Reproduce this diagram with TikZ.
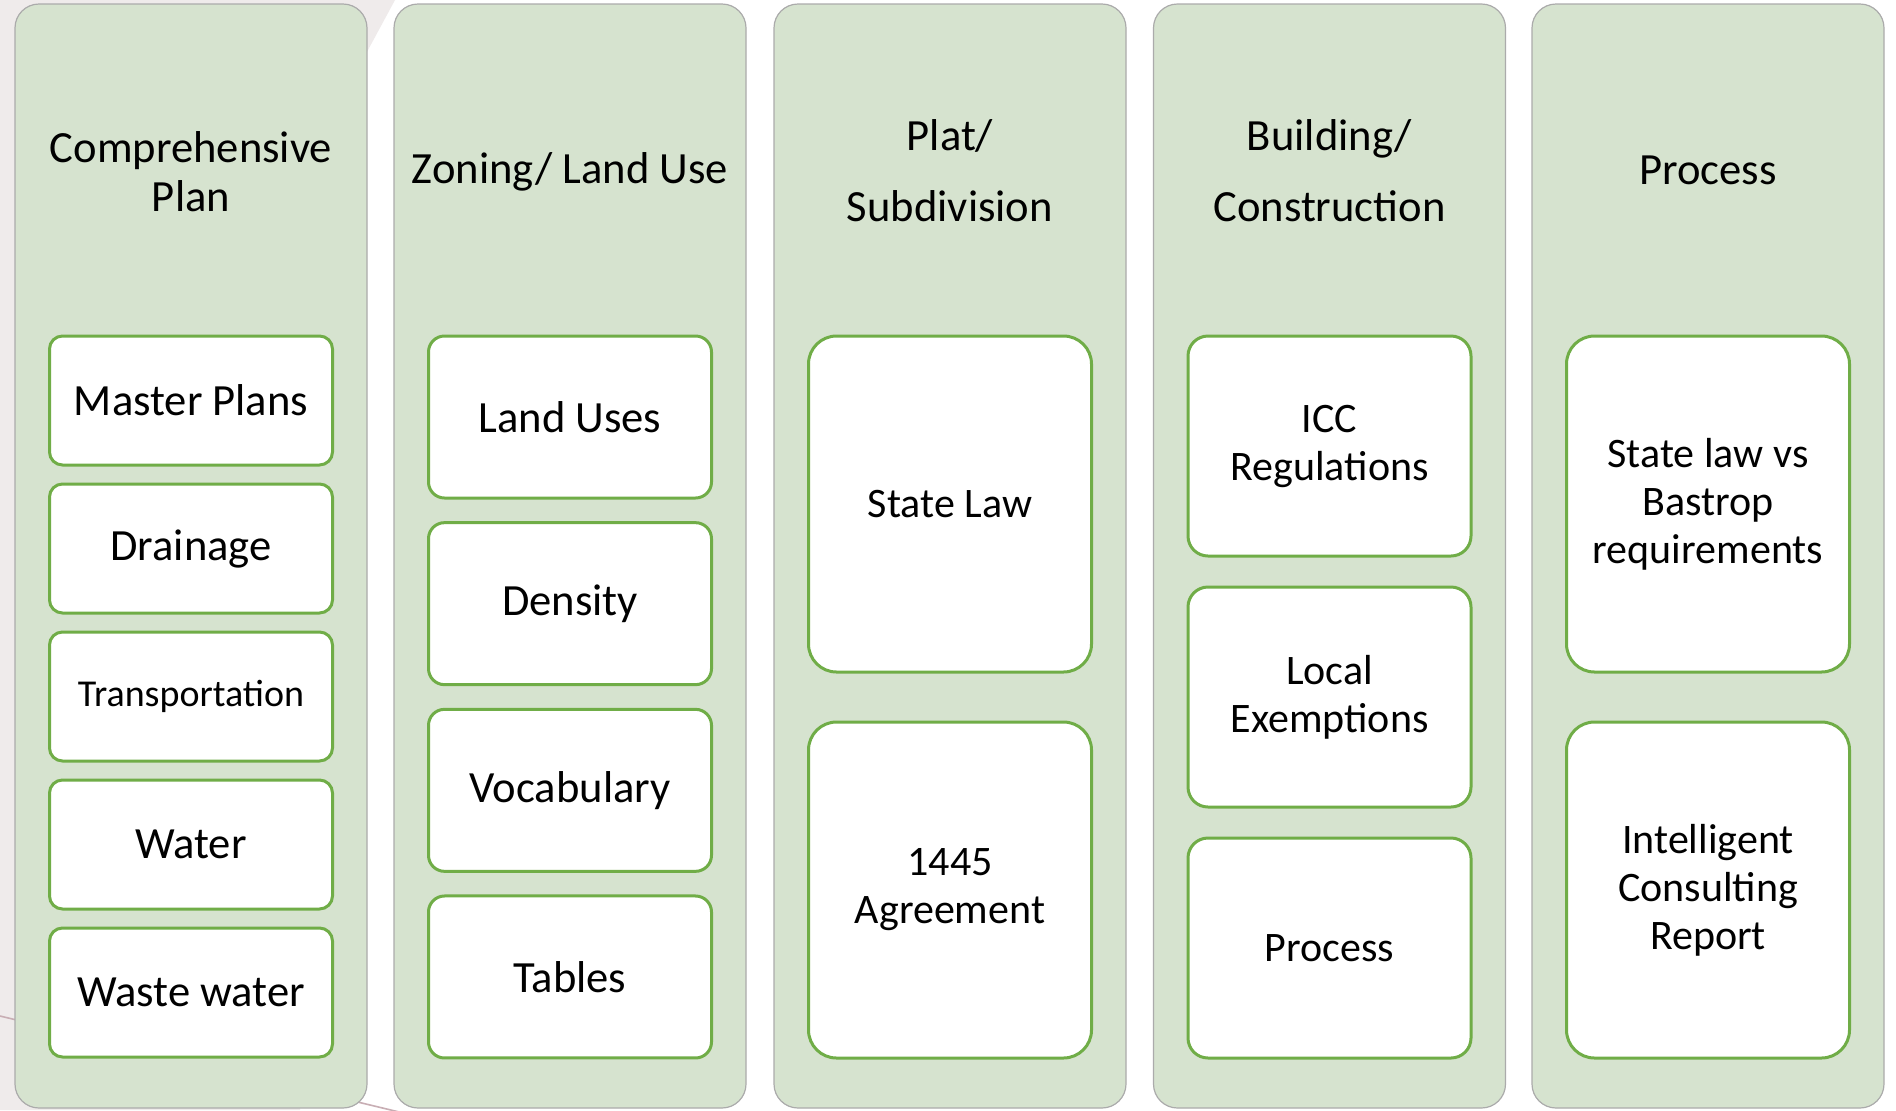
\documentclass[tikz,border=0pt]{standalone}
\usepackage{fontspec}
\setmainfont{Carlito}
\usepackage{tikz}

\definecolor{colfill}{HTML}{D6E3CF}
\definecolor{colline}{HTML}{ABABAB}
\definecolor{boxline}{HTML}{70AD47}
\definecolor{slidegrey}{HTML}{EFEBEB}
\definecolor{slideline}{HTML}{C8AEB4}

\begin{document}
\begin{tikzpicture}[x=0.5pt,y=-0.5pt]
  \tikzstyle{column}=[fill=colfill,draw=colline,line width=0.6pt,rounded corners=12pt,minimum width=176pt,minimum height=552pt,inner sep=0pt]
  \tikzstyle{head}=[align=center,inner sep=0pt,font=\fontsize{22.3}{24.5}\selectfont]
  \tikzstyle{item}=[fill=white,draw=boxline,line width=1.5pt,minimum width=141.5pt,inner sep=0pt,align=center,font=\fontsize{22.3}{24}\selectfont]
  \tikzstyle{small}=[item,minimum height=64.5pt,rounded corners=6.5pt]
  \tikzstyle{medium}=[item,minimum height=81pt,rounded corners=8pt]
  \tikzstyle{tall}=[item,minimum height=110pt,rounded corners=10pt,font=\fontsize{21}{24}\selectfont]
  \tikzstyle{big}=[item,minimum height=168pt,rounded corners=14pt,font=\fontsize{21}{24}\selectfont]

  \useasboundingbox (0,0) rectangle (1896,1110);
  % slide background
  \fill[white] (0,0) rectangle (1896,1110);
  \fill[slidegrey] (0,0) -- (395,0) -- (368,50) -- (300,200) -- (300,1110) -- (0,1110) -- cycle;
  \draw[slideline,line width=0.8pt] (0,1016) -- (420,1117);

  % columns
  \node[column] (c1) at (191,556)    {};
  \node[column] (c2) at (570,556)    {};
  \node[column] (c3) at (950,556)    {};
  \node[column] (c4) at (1329.5,556) {};
  \node[column] (c5) at (1708,556)   {};

  \node[head] (h1) at (191,172)    {Comprehensive\\Plan};
  \node[head] (h2) at (570,172)    {Zoning/ Land Use};
  \node[head,font=\fontsize{22.3}{35.5}\selectfont] (h3) at (950,171)    {Plat/\\Subdivision};
  \node[head,font=\fontsize{22.3}{35.5}\selectfont] (h4) at (1329.5,171) {Building/\\Construction};
  \node[head] (h5) at (1708,170)   {Process};

  % comprehensive plan
  \node[small] (m1) at (191,400.5) {Master Plans};
  \node[small] (m2) [below of=m1,node distance=74pt] {Drainage};
  \node[small,font=\fontsize{19}{22}\selectfont] (m3) [below of=m2,node distance=74pt] {Transportation};
  \node[small] (m4) [below of=m3,node distance=74pt] {Water};
  \node[small] (m5) [below of=m4,node distance=74pt] {Waste water};

  % zoning
  \node[medium] (z1) at (570,417) {Land Uses};
  \node[medium] (z2) [below of=z1,node distance=93.33pt] {Density};
  \node[medium] (z3) [below of=z2,node distance=93.33pt] {Vocabulary};
  \node[medium] (z4) [below of=z3,node distance=93.33pt] {Tables};

  % plat
  \node[big] (p1) at (950,504) {State Law};
  \node[big] (p2) [below of=p1,node distance=193pt] {1445\\Agreement};

  % building
  \node[tall] (b1) at (1329.5,446) {ICC\\Regulations};
  \node[tall] (b2) [below of=b1,node distance=125.5pt] {Local\\Exemptions};
  \node[tall] (b3) [below of=b2,node distance=125.5pt] {Process};

  % process
  \node[big] (r1) at (1708,504) {State law vs\\Bastrop\\requirements};
  \node[big] (r2) [below of=r1,node distance=193pt] {Intelligent\\Consulting\\Report};
\end{tikzpicture}
\end{document}
